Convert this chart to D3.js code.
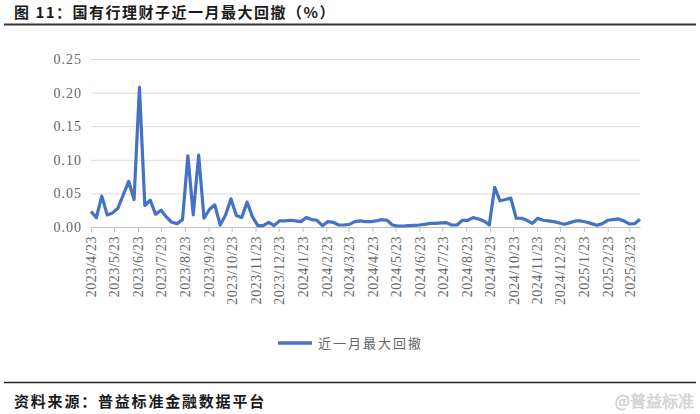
<!DOCTYPE html>
<html><head><meta charset="utf-8">
<script src="https://cdn.jsdelivr.net/npm/d3@7"></script>
<style>
html,body{margin:0;padding:0;background:#fff;}
svg{display:block;}
</style></head>
<body>
<svg id="c" width="700" height="414"></svg>
<script>
// ---- data ----
const titleText = "图 11：国有行理财子近一月最大回撤（%）";
const sourceText = "资料来源：普益标准金融数据平台";
const seriesName = "近一月最大回撤";
const startDate = "2023/4/23"; // first weekly observation
const drawdown = [
  0.023,0.014,0.046,0.018,0.021,0.028,0.048,0.068,0.041,0.208,
  0.032,0.040,0.019,0.025,0.015,0.007,0.005,0.011,0.106,0.018,
  0.107,0.013,0.026,0.033,0.003,0.018,0.042,0.017,0.014,0.037,
  0.015,0.002,0.002,0.007,0.002,0.009,0.009,0.010,0.009,0.008,
  0.014,0.011,0.010,0.002,0.008,0.007,0.003,0.003,0.004,0.008,
  0.009,0.008,0.008,0.009,0.011,0.010,0.003,0.0015,0.0015,0.002,
  0.0025,0.003,0.004,0.0055,0.0055,0.006,0.0065,0.003,0.003,0.010,
  0.010,0.014,0.012,0.009,0.003,0.059,0.039,0.041,0.043,0.013,
  0.013,0.010,0.0055,0.013,0.010,0.009,0.008,0.006,0.004,0.0065,
  0.009,0.009,0.0075,0.005,0.0025,0.005,0.010,0.011,0.012,0.009,
  0.0045,0.005,0.0115
];
const xTickLabels = [
  "2023/4/23","2023/5/23","2023/6/23","2023/7/23","2023/8/23","2023/9/23",
  "2023/10/23","2023/11/23","2023/12/23","2024/1/23","2024/2/23","2024/3/23",
  "2024/4/23","2024/5/23","2024/6/23","2024/7/23","2024/8/23","2024/9/23",
  "2024/10/23","2024/11/23","2024/12/23","2025/1/23","2025/2/23","2025/3/23"
];
const yTicks = [0, 0.05, 0.10, 0.15, 0.20, 0.25];

// ---- build ----
(function () {
const parse = d3.timeParse("%Y/%m/%d");
const start = parse(startDate);
const points = drawdown.map((v, i) => ({date: d3.timeDay.offset(start, 7 * i), value: v}));
const tickDates = xTickLabels.map(parse);

const svg = d3.select("#c");
const pL = 91, pR = 640, pT = 59, pB = 227;

const x = d3.scaleTime()
  .domain(d3.extent(points, d => d.date))
  .range([pL, pR]);
const y = d3.scaleLinear().domain([0, 0.25]).range([pB, pT]);

const serif = "'Liberation Serif','Times New Roman',serif";
const cjk = "'Noto Sans CJK SC','Noto Sans CJK JP',sans-serif";

// title
svg.append("text")
  .attr("x", 14).attr("y", 18)
  .attr("font-family", cjk).attr("font-weight", "bold")
  .attr("font-size", 15).attr("letter-spacing", 1.5)
  .attr("fill", "#1a1a1a")
  .text(titleText);
svg.append("line").attr("x1", 4).attr("x2", 696).attr("y1", 24.5).attr("y2", 24.5)
  .attr("stroke", "#333").attr("stroke-width", 2);

// gridlines + y labels
const yAxis = d3.axisLeft(y).tickValues(yTicks).tickFormat(d3.format(".2f"))
  .tickSize(-(pR - pL)).tickPadding(9);
const gy = svg.append("g").attr("transform", `translate(${pL},0)`).call(yAxis);
gy.select(".domain").remove();
gy.selectAll(".tick line").attr("stroke", "#d9d9d9").attr("stroke-width", 1)
  .filter(d => d === 0).attr("stroke", "#bfbfbf");
gy.selectAll(".tick text").attr("font-family", serif).attr("font-size", 14)
  .attr("letter-spacing", 1).attr("fill", "#666");

// x axis
const xAxis = d3.axisBottom(x).tickValues(tickDates)
  .tickFormat((d, i) => xTickLabels[i]).tickSize(5).tickSizeOuter(0);
const gx = svg.append("g").attr("transform", `translate(0,${pB})`).call(xAxis);
gx.select(".domain").attr("stroke", "#bfbfbf");
gx.selectAll(".tick line").attr("stroke", "#bfbfbf");
gx.selectAll(".tick text")
  .attr("font-family", serif).attr("font-size", 14).attr("letter-spacing", 0.5)
  .attr("fill", "#666")
  .attr("transform", "rotate(-90)")
  .attr("text-anchor", "end")
  .attr("x", -9).attr("y", 0).attr("dy", "0.35em");

// line
const line = d3.line().x(d => x(d.date)).y(d => y(d.value));
svg.append("path").datum(points)
  .attr("d", line).attr("fill", "none")
  .attr("stroke", "#4472C4").attr("stroke-width", 3.2)
  .attr("stroke-linejoin", "round");

// legend
svg.append("line").attr("x1", 278).attr("x2", 312).attr("y1", 343).attr("y2", 343)
  .attr("stroke", "#4472C4").attr("stroke-width", 3.5);
svg.append("text").attr("x", 318).attr("y", 348)
  .attr("font-family", cjk).attr("font-size", 13).attr("letter-spacing", 2)
  .attr("fill", "#666")
  .text(seriesName);

// footer
svg.append("line").attr("x1", 4).attr("x2", 696).attr("y1", 382.5).attr("y2", 382.5)
  .attr("stroke", "#222").attr("stroke-width", 1.5);
svg.append("text")
  .attr("x", 14).attr("y", 407)
  .attr("font-family", cjk).attr("font-weight", "bold")
  .attr("font-size", 15).attr("letter-spacing", 1.8)
  .attr("fill", "#1a1a1a")
  .text(sourceText);
svg.append("text")
  .attr("x", 694).attr("y", 407).attr("text-anchor", "end")
  .attr("font-family", cjk).attr("font-size", 16)
  .attr("fill", "#e2e2e2").attr("stroke", "#c8c8c8").attr("stroke-width", 0.5)
  .text("@普益标准");
})();
</script>
</body></html>
